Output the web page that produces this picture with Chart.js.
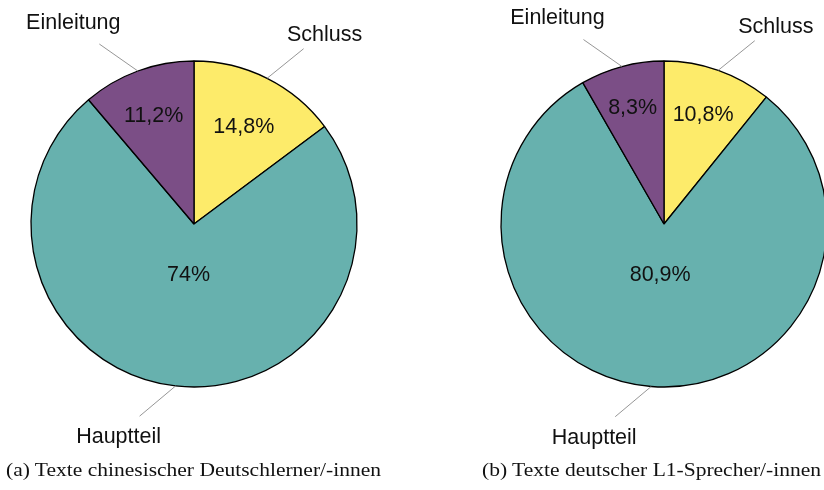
<!DOCTYPE html>
<html>
<head>
<meta charset="utf-8">
<script src="https://cdn.jsdelivr.net/npm/chart.js@4/dist/chart.umd.min.js"></script>
<style>
  html, body { margin:0; padding:0; background:#fff; }
  body { width:824px; height:490px; position:relative; overflow:hidden; }
  .box { position:absolute; top:0; width:400px; height:490px; }
  .cap { position:absolute; top:459px; font-family:"Liberation Serif", serif; font-size:19px; color:#111; white-space:nowrap; transform-origin:0 0; }
</style>
</head>
<body>
<div class="box" style="left:-6px"><canvas id="c1" width="400" height="490"></canvas></div>
<div class="box" style="left:464px"><canvas id="c2" width="400" height="490"></canvas></div>
<div class="cap" id="capA" style="left:6px">(a) Texte chinesischer Deutschlerner/-innen</div>
<div class="cap" id="capB" style="left:482px">(b) Texte deutscher L1-Sprecher/-innen</div>
<script>
// ---- data ----
const categories = ['Schluss', 'Hauptteil', 'Einleitung'];
const valuesA = [14.8, 74, 11.2];
const valuesB = [10.8, 80.9, 8.3];
const percentLabelsA = ['14,8%', '74%', '11,2%'];
const percentLabelsB = ['10,8%', '80,9%', '8,3%'];
const sliceColors = ['#fdeb6a', '#67b1ae', '#7b4e86'];

// pin styling per category (direction in math degrees, label offset from pin end)
const pinStyle = {
  'Schluss':    { angle: 39,  dx: 21,  dy: -14 },
  'Hauptteil':  { angle: 220, dx: -21, dy: 21 },
  'Einleitung': { angle: 145, dx: -26, dy: -21 }
};
const SANS = '21.5px "Liberation Sans", Arial, sans-serif';

const pieLabels = {
  id: 'pieLabels',
  afterDatasetsDraw(chart, args, opts) {
    const ctx = chart.ctx;
    const meta = chart.getDatasetMeta(0);
    const labels = opts.labels;
    ctx.save();
    meta.data.forEach((arc, i) => {
      const p = arc.getProps(['x', 'y', 'startAngle', 'endAngle', 'outerRadius'], true);
      const mid = (p.startAngle + p.endAngle) / 2;
      const spanDeg = (p.endAngle - p.startAngle) * 180 / Math.PI;
      // pgf-pie style inner label position
      let t = Math.min((spanDeg - 10) / 110 * (-0.3), 0);
      const innerpos = Math.max(t, -0.5) + 0.8;
      const r = p.outerRadius;
      ctx.font = SANS;
      ctx.fillStyle = '#111';
      ctx.textAlign = 'center';
      ctx.textBaseline = 'middle';
      ctx.fillText(labels[i], p.x + Math.cos(mid) * r * innerpos, p.y + 2 + Math.sin(mid) * r * innerpos);
      // pin
      const cat = chart.data.labels[i];
      const ps = pinStyle[cat];
      const sx = p.x + Math.cos(mid) * r, sy = p.y + Math.sin(mid) * r;
      const a = ps.angle * Math.PI / 180;
      const ex = sx + Math.cos(a) * 47, ey = sy - Math.sin(a) * 47;
      ctx.strokeStyle = '#8a8a8a';
      ctx.lineWidth = 0.9;
      ctx.beginPath(); ctx.moveTo(sx, sy); ctx.lineTo(ex, ey); ctx.stroke();
      ctx.fillText(cat, ex + ps.dx, ey + ps.dy);
    });
    ctx.restore();
  }
};

function makePie(id, values, labels) {
  return new Chart(document.getElementById(id), {
    type: 'pie',
    data: {
      labels: categories,
      datasets: [{
        data: values,
        backgroundColor: sliceColors,
        borderColor: '#000',
        borderWidth: 1.3,
        radius: 163
      }]
    },
    options: {
      responsive: false,
      animation: false,
      events: [],
      layout: { padding: { top: 0, bottom: 42, left: 0, right: 0 } },
      plugins: {
        legend: { display: false },
        tooltip: { enabled: false },
        pieLabels: { labels: labels }
      }
    },
    plugins: [pieLabels]
  });
}
makePie('c1', valuesA, percentLabelsA);
makePie('c2', valuesB, percentLabelsB);

// fit caption widths
function fit(id, w) {
  const el = document.getElementById(id);
  const cur = el.getBoundingClientRect().width;
  el.style.transform = 'scaleX(' + (w / cur) + ')';
}
fit('capA', 375);
fit('capB', 339);
</script>
</body>
</html>
